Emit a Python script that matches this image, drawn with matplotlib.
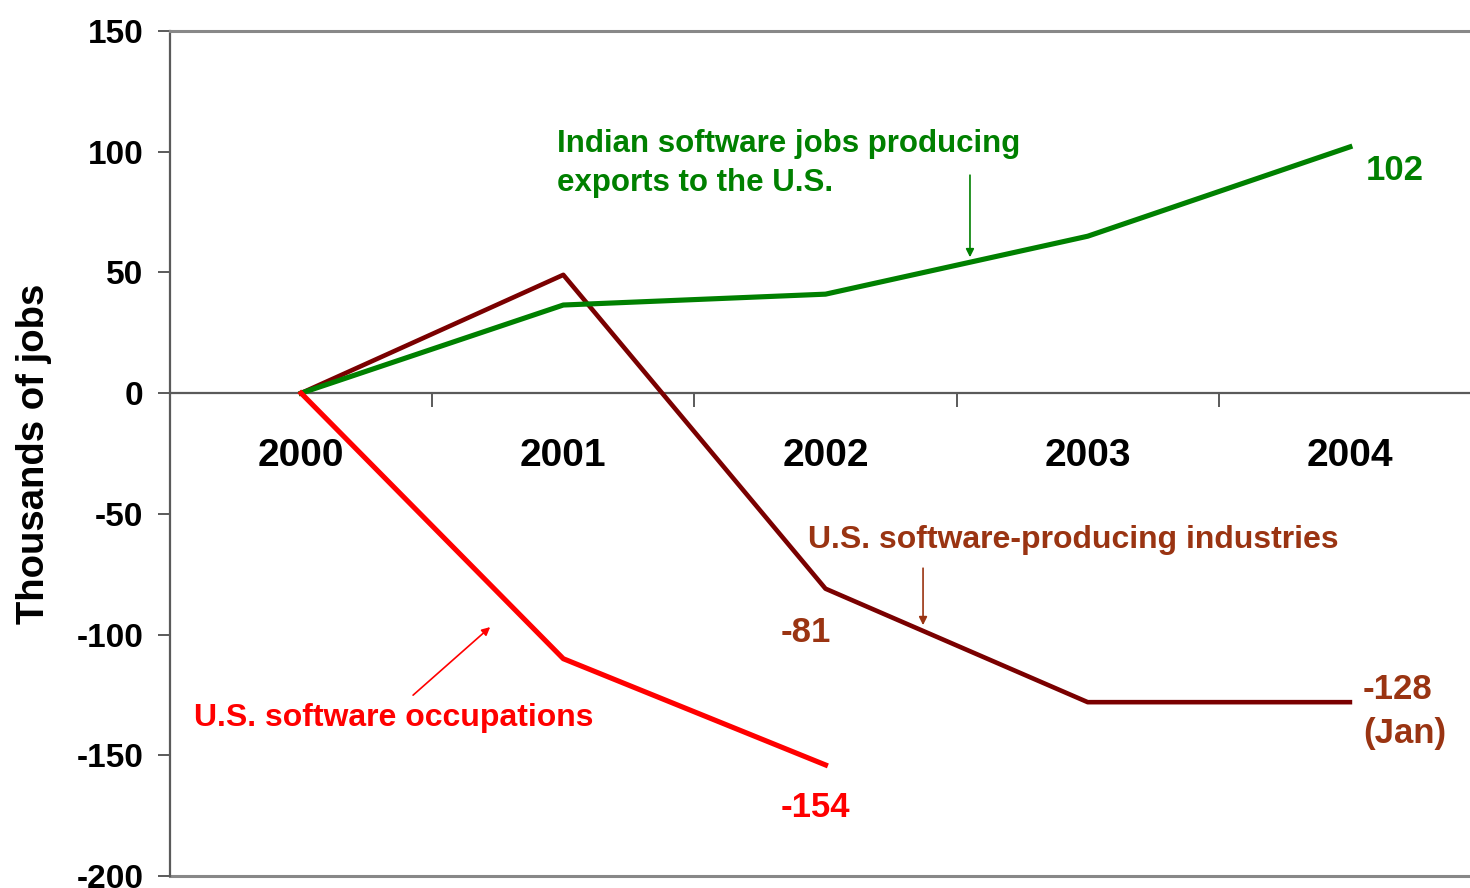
import numpy as np
import matplotlib.pyplot as plt

plt.rcParams['font.family'] = ['Liberation Sans', 'DejaVu Sans']
plt.rcParams['axes.unicode_minus'] = False

###############################################################################
# Data (thousands of jobs, change since 2000)
years = ['2000', '2001', '2002', '2003', '2004']
indian_jobs = [0, 36.5, 41, 65, 102]          # Indian software jobs producing exports to the U.S.
us_industries = [0, 49, -81, -128, -128]      # U.S. software-producing industries
us_occupations = [0, -110, -154]              # U.S. software occupations

GREEN = '#008000'
DARKRED = '#7a0000'
BROWN = '#9a3412'
RED = '#ff0000'
AXIS = '#5a5a5a'

###############################################################################
# Figure
fig = plt.figure(figsize=(14.7, 8.88), dpi=100)
ax = fig.add_axes([170 / 1470, 12 / 888, 1 - 170 / 1470, 845 / 888])

x = np.arange(len(years))
ax.plot(x, indian_jobs, color=GREEN, lw=3.7, zorder=4)
ax.plot(x, us_industries, color=DARKRED, lw=3.3, zorder=3)
ax.plot(x[:len(us_occupations)], us_occupations, color=RED, lw=3.7, zorder=5)

ax.set_xlim(-0.5, 4.458)
ax.set_ylim(-200, 150)

# frame: left + top, zero axis carries the year labels, bottom line at -200
ax.spines['right'].set_visible(False)
ax.spines['left'].set_color(AXIS)
ax.spines['left'].set_linewidth(1.6)
ax.spines['top'].set_color('#888888')
ax.spines['top'].set_linewidth(2.2)
ax.spines['bottom'].set_position(('data', 0))
ax.spines['bottom'].set_color(AXIS)
ax.spines['bottom'].set_linewidth(1.6)
ax.axhline(-200, color='#888888', lw=2.2, clip_on=False, zorder=1)

ax.set_yticks(np.arange(-200, 151, 50))
ax.tick_params(axis='y', direction='out', length=9, width=1.4, color=AXIS,
               labelsize=24, pad=10)
for lab in ax.get_yticklabels():
    lab.set_fontweight('bold')

ax.set_xticks(x)
ax.set_xticklabels(years, fontsize=28, fontweight='bold')
ax.set_xticks(x[:-1] + 0.5, minor=True)
ax.tick_params(axis='x', which='major', length=0, pad=32)
ax.tick_params(axis='x', which='minor', direction='out', length=10, width=1.4,
               color=AXIS)

ax.set_ylabel('Thousands of jobs', fontsize=27.5, fontweight='bold')
ax.yaxis.set_label_coords(-0.091, 0.5)

###############################################################################
# Annotations
ax.text(0.976, 95, 'Indian software jobs producing\nexports to the U.S.',
        color=GREEN, fontsize=22.5, fontweight='bold', ha='left', va='center',
        linespacing=1.4)
ax.annotate('', xy=(2.551, 56.3), xytext=(2.551, 90.3),
            arrowprops=dict(arrowstyle='-|>', color=GREEN, lw=1.2,
                            mutation_scale=12, shrinkA=0, shrinkB=0))

ax.text(1.933, -61, 'U.S. software-producing industries', color=BROWN,
        fontsize=23, fontweight='bold', ha='left', va='center')
ax.annotate('', xy=(2.372, -96.1), xytext=(2.372, -72.5),
            arrowprops=dict(arrowstyle='-|>', color=BROWN, lw=1.2,
                            mutation_scale=12, shrinkA=0, shrinkB=0))

ax.text(-0.41, -134.6, 'U.S. software occupations', color=RED,
        fontsize=23, fontweight='bold', ha='left', va='center')
ax.annotate('', xy=(0.721, -96.9), xytext=(0.427, -125.1),
            arrowprops=dict(arrowstyle='-|>', color=RED, lw=1.2,
                            mutation_scale=12, shrinkA=0, shrinkB=0))

# end-point values
ax.text(4.06, indian_jobs[-1] - 9.6, f'{indian_jobs[-1]:.0f}', color=GREEN,
        fontsize=25, fontweight='bold', ha='left', va='center')
ax.text(4.05, us_industries[-1] + 12, f'{us_industries[-1]:.0f}\n(Jan)',
        color=BROWN, fontsize=25, fontweight='bold', ha='left', va='top',
        linespacing=1.4)
ax.text(1.83, us_industries[2] - 18, f'{us_industries[2]:.0f}', color=BROWN,
        fontsize=25, fontweight='bold', ha='left', va='center')
ax.text(1.83, us_occupations[-1] - 17.5, f'{us_occupations[-1]:.0f}', color=RED,
        fontsize=25, fontweight='bold', ha='left', va='center')

plt.savefig('out.png', dpi=100)
